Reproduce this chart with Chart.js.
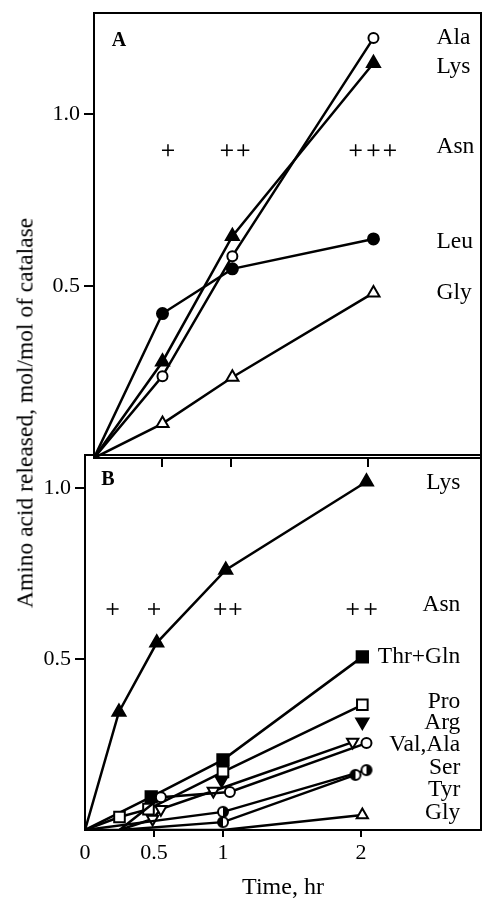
<!DOCTYPE html>
<html>
<head>
<meta charset="utf-8">
<script src="https://cdn.jsdelivr.net/npm/chart.js@4.4.1/dist/chart.umd.min.js"></script>
<style>
html, body { margin: 0; padding: 0; background: #fff; overflow: hidden; }
#wrap { position: relative; width: 483px; height: 898px; }
canvas { position: absolute; left: 0; }
#chartA { top: 0; }
#chartB { top: 440px; }
#ytitle {
    position: absolute; left: 25px; top: 413px;
    transform: translate(-50%, -50%) rotate(-90deg);
    font: 23.5px "Liberation Serif", serif; white-space: nowrap; color: #000;
}
</style>
</head>
<body>
<div id="wrap">
    <canvas id="chartA" width="483" height="470"></canvas>
    <canvas id="chartB" width="483" height="462"></canvas>
    <div id="ytitle">Amino acid released, mol/mol of catalase</div>
</div>
<script>
// Panel A - time (hr) and amino acid released (mol/mol)
const timeA = [0, 0.5, 1.01, 2.04];
const alaA = [0, 0.238, 0.587, 1.221];
const lysA = [0, 0.28, 0.645, 1.148];
const leuA = [0, 0.42, 0.55, 0.637];
const glyA = [0, 0.10, 0.235, 0.48];
const asnTimeA = [0.54, 0.97, 1.09, 1.91, 2.04, 2.16];
const asnLevelA = [0.895, 0.895, 0.895, 0.895, 0.895, 0.895];

// Panel B
const lysTimeB = [0, 0.246, 0.52, 1.02, 2.04];
const lysB = [0, 0.345, 0.547, 0.76, 1.018];
const thrGlnTimeB = [0, 0.48, 1.0, 2.01];
const thrGlnB = [0, 0.097, 0.205, 0.506];
const proTimeB = [0, 0.25, 0.46, 1.0, 2.01];
const proB = [0, 0.038, 0.061, 0.17, 0.366];
const argTimeB = [0.99, 2.01];
const argB = [0.146, 0.316];
const valTimeB = [0.25, 0.49, 0.55, 0.93, 1.94];
const valB = [0, 0.032, 0.061, 0.114, 0.257];
const alaTimeB = [0.25, 0.55, 1.05, 2.04];
const alaB = [0, 0.096, 0.111, 0.254];
const serTimeB = [0, 1.0, 2.04];
const serB = [0, 0.053, 0.175];
const tyrTimeB = [0.25, 1.0, 1.96];
const tyrB = [0, 0.023, 0.161];
const glyTimeB = [0, 1.0, 2.01];
const glyB = [0, 0, 0.044];
const asnTimeB = [0.2, 0.5, 0.98, 1.09, 1.94, 2.07];
const asnLevelB = [0.646, 0.646, 0.646, 0.646, 0.646, 0.646];

const yTicks = [0.5, 1.0];
const xTicksA = [0.5, 1, 2];
const xTicksB = [0, 0.5, 1, 2];
const labelsA = ['Ala', 'Lys', 'Asn', 'Leu', 'Gly'];
const labelLevelsA = [1.221, 1.137, 0.904, 0.628, 0.48];
const labelsB = ['Lys', 'Asn', 'Thr+Gln', 'Pro', 'Arg', 'Val,Ala', 'Ser', 'Tyr', 'Gly'];
const labelLevelsB = [1.015, 0.658, 0.506, 0.374, 0.313, 0.249, 0.181, 0.117, 0.05];

const FONT = 'Liberation Serif';

// half filled circle marker
function halfDot(side, r) {
    const s = Math.ceil(r * 2 + 4);
    const c = document.createElement('canvas');
    c.width = s; c.height = s;
    const g = c.getContext('2d');
    g.fillStyle = '#fff';
    g.beginPath(); g.arc(s / 2, s / 2, r, 0, Math.PI * 2); g.fill();
    g.fillStyle = '#000';
    g.beginPath();
    if (side === 'right') g.arc(s / 2, s / 2, r, -Math.PI / 2, Math.PI / 2);
    else g.arc(s / 2, s / 2, r, Math.PI / 2, Math.PI * 1.5);
    g.closePath(); g.fill();
    g.lineWidth = 2; g.strokeStyle = '#000';
    g.beginPath(); g.arc(s / 2, s / 2, r, 0, Math.PI * 2); g.stroke();
    return c;
}

function series(xs, ys, marker, r, extra) {
    return Object.assign({
        data: xs.map((x, i) => ({ x: x, y: ys[i] })),
        showLine: true,
        borderColor: '#000',
        borderWidth: 2.5,
        tension: 0,
        pointBorderColor: '#000',
        pointBorderWidth: 2,
        pointRadius: ctx => (ctx.raw && ctx.raw.y === 0) ? 0 : r
    }, marker, extra || {});
}

const openCircle = { pointStyle: 'circle', pointBackgroundColor: '#fff' };
const filledCircle = { pointStyle: 'circle', pointBackgroundColor: '#000' };
const filledTri = { pointStyle: 'triangle', pointBackgroundColor: '#000' };
const openTri = { pointStyle: 'triangle', pointBackgroundColor: '#fff' };
const filledSquare = { pointStyle: 'rect', pointBackgroundColor: '#000' };
const openSquare = { pointStyle: 'rect', pointBackgroundColor: '#fff' };
const asnStyle = { showLine: false, pointStyle: 'cross', pointRadius: 6, pointBorderWidth: 1.5 };

// fixed box sizes, no automatic label padding
function fixBox(w, h) {
    return s => {
        if (w !== null) s.width = w;
        if (h !== null) s.height = h;
        s.paddingTop = 0; s.paddingBottom = 0; s.paddingLeft = 0; s.paddingRight = 0;
    };
}

const framePlugin = {
    id: 'frame',
    afterDatasetsDraw(chart) {
        const a = chart.chartArea, c = chart.ctx;
        c.save();
        c.strokeStyle = '#000';
        c.lineWidth = 2;
        c.strokeRect(a.left, a.top, a.right - a.left, a.bottom - a.top);
        c.restore();
    }
};

const labelPlugin = {
    id: 'sideLabels',
    afterDraw(chart, args, opts) {
        const c = chart.ctx, xs = chart.scales.x, ys = chart.scales.y, a = chart.chartArea;
        c.save();
        c.fillStyle = '#000';
        c.textBaseline = 'middle';
        c.font = '23.5px "' + FONT + '"';
        c.textAlign = opts.align;
        opts.names.forEach((n, i) => c.fillText(n, xs.getPixelForValue(opts.x), ys.getPixelForValue(opts.levels[i])));
        c.font = 'bold 20px "' + FONT + '"';
        c.textAlign = 'center';
        c.fillText(opts.tag, a.left + opts.tagDx, a.top + opts.tagDy);
        c.restore();
    }
};

function yScale(max, width) {
    return {
        type: 'linear', min: 0, max: max,
        afterFit: fixBox(width, null),
        afterBuildTicks: s => { s.ticks = yTicks.map(v => ({ value: v })); },
        ticks: { color: '#000', font: { family: FONT, size: 22 }, padding: 4, callback: v => v.toFixed(1) },
        grid: { drawOnChartArea: false, drawTicks: true, tickLength: 10, color: '#000', lineWidth: 2 },
        border: { display: false }
    };
}

// Panel A
new Chart(document.getElementById('chartA'), {
    type: 'scatter',
    data: {
        datasets: [
            series(timeA, glyA, openTri, 7),
            series(timeA, leuA, filledCircle, 5.5),
            series(timeA, lysA, filledTri, 7.5),
            series(timeA, alaA, openCircle, 5),
            Object.assign({ data: asnTimeA.map((x, i) => ({ x: x, y: asnLevelA[i] })), borderColor: '#000', pointBorderColor: '#000' }, asnStyle)
        ]
    },
    options: {
        responsive: false,
        animation: false,
        devicePixelRatio: 1,
        layout: { autoPadding: false, padding: { top: 13, left: 0, right: 2, bottom: 0 } },
        scales: {
            x: {
                type: 'linear', min: 0, max: 2.825,
                afterFit: fixBox(null, 12),
                afterBuildTicks: s => { s.ticks = xTicksA.map(v => ({ value: v })); },
                ticks: { display: false },
                grid: { drawOnChartArea: false, drawTicks: true, tickLength: 9, color: '#000', lineWidth: 2 },
                border: { display: false }
            },
            y: yScale(1.294, 94)
        },
        plugins: {
            legend: { display: false },
            tooltip: { enabled: false },
            sideLabels: { names: labelsA, levels: labelLevelsA, x: 2.5, align: 'left', tag: 'A', tagDx: 25, tagDy: 28 }
        }
    },
    plugins: [framePlugin, labelPlugin]
});

// Panel B
new Chart(document.getElementById('chartB'), {
    type: 'scatter',
    data: {
        datasets: [
            series(glyTimeB, glyB, openTri, 6.5),
            series(tyrTimeB, tyrB, { pointStyle: halfDot('left', 5) }, 5),
            series(serTimeB, serB, { pointStyle: halfDot('right', 5) }, 5),
            series(alaTimeB, alaB, openCircle, 5),
            series(valTimeB, valB, openTri, 6.5, { pointRotation: 180 }),
            series(argTimeB, argB, filledTri, 7, { pointRotation: 180, showLine: false }),
            series(proTimeB, proB, openSquare, 7.5),
            series(thrGlnTimeB, thrGlnB, filledSquare, 8),
            series(lysTimeB, lysB, filledTri, 7.5),
            Object.assign({ data: asnTimeB.map((x, i) => ({ x: x, y: asnLevelB[i] })), borderColor: '#000', pointBorderColor: '#000' }, asnStyle)
        ]
    },
    options: {
        responsive: false,
        animation: false,
        devicePixelRatio: 1,
        layout: { autoPadding: false, padding: { top: 15, left: 0, right: 2, bottom: 0 } },
        scales: {
            x: {
                type: 'linear', min: 0, max: 2.87,
                afterFit: fixBox(null, 72),
                afterBuildTicks: s => { s.ticks = xTicksB.map(v => ({ value: v })); },
                ticks: { color: '#000', font: { family: FONT, size: 22 }, padding: 3, maxRotation: 0, callback: v => String(v) },
                grid: {
                    drawOnChartArea: false, drawTicks: true, tickLength: 7, lineWidth: 2,
                    color: ctx => (ctx.tick && ctx.tick.value === 0) ? 'rgba(0,0,0,0)' : '#000'
                },
                border: { display: false },
                title: { display: true, text: 'Time, hr', color: '#000', font: { family: FONT, size: 24 }, padding: 0 }
            },
            y: yScale(1.096, 85)
        },
        plugins: {
            legend: { display: false },
            tooltip: { enabled: false },
            sideLabels: { names: labelsB, levels: labelLevelsB, x: 2.72, align: 'right', tag: 'B', tagDx: 23, tagDy: 25 }
        }
    },
    plugins: [framePlugin, labelPlugin]
});
</script>
</body>
</html>
